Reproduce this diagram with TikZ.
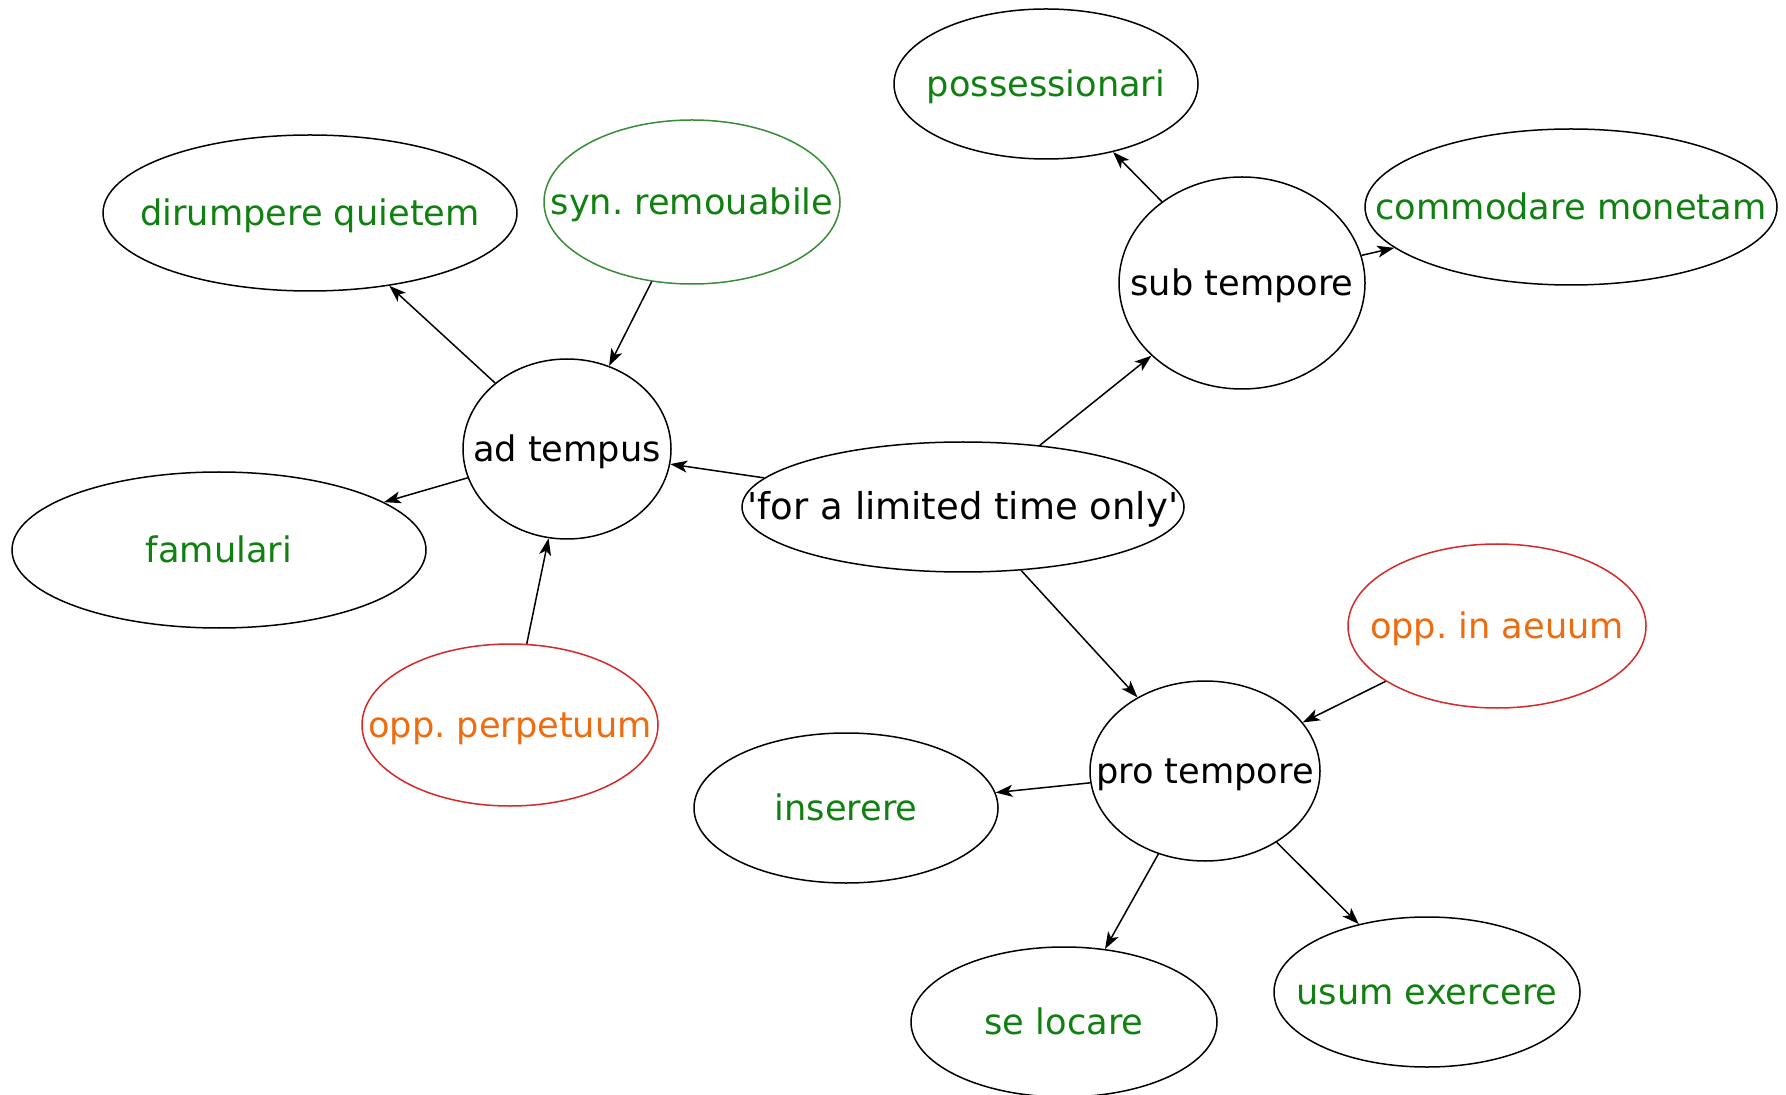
\documentclass[tikz,border=0pt]{standalone}
\usepackage{fontspec}
\setmainfont{DejaVu Sans}
\usetikzlibrary{shapes.geometric,arrows.meta}
\definecolor{txtgreen}{RGB}{16,128,16}
\definecolor{txtorange}{RGB}{238,108,16}
\definecolor{bordred}{RGB}{214,40,40}
\definecolor{bordgreen}{RGB}{56,140,56}
\frenchspacing
\newcommand{\lbl}[1]{\makebox[0pt]{\raisebox{-0.35em}[0pt][0pt]{#1}}}
\begin{document}
\begin{tikzpicture}[x=0.5pt,y=-0.5pt,
  ell/.style={ellipse,draw,line width=0.75pt,inner sep=0pt,font=\fontsize{17.6}{20}\selectfont},
  sz/.style 2 args={minimum width=#1pt,minimum height=#2pt},
  word/.style={ell,text=txtgreen},
  synw/.style={ell,draw=bordgreen,text=txtgreen},
  oppw/.style={ell,draw=bordred,text=txtorange},
  arr/.style={-{Stealth[length=8.5pt,width=6pt,inset=2.2pt]},line width=0.75pt}]
\useasboundingbox (0,0) rectangle (1786,1095);
\node[ell,sz={221}{65},font=\fontsize{18.5}{21}\selectfont] (root) at (963,507) {\lbl{\textquotesingle for a limited time only\textquotesingle}};
\node[ell,sz={104}{90}] (ad) at (567,449) {\lbl{ad tempus}};
\node[ell,sz={123}{106}] (sub) at (1242,283) {\lbl{sub tempore}};
\node[ell,sz={115}{90}] (pro) at (1205,771) {\lbl{pro tempore}};
\node[word,sz={207}{78}] (dir) at (310,213) {\lbl{dirumpere quietem}};
\node[synw,sz={148}{82}] (syn) at (692,202) {\lbl{syn. remouabile}};
\node[word,sz={207}{78}] (fam) at (219,550) {\lbl{famulari}};
\node[oppw,sz={148}{81}] (perp) at (510,725) {\lbl{opp. perpetuum}};
\node[word,sz={152}{75}] (poss) at (1046,84) {\lbl{possessionari}};
\node[word,sz={206}{78}] (comm) at (1571,207) {\lbl{commodare monetam}};
\node[oppw,sz={149}{82}] (aeuum) at (1497,626) {\lbl{opp. in aeuum}};
\node[word,sz={152}{75}] (ins) at (846,808) {\lbl{inserere}};
\node[word,sz={153}{75}] (sel) at (1064,1022) {\lbl{se locare}};
\node[word,sz={153}{75}] (usum) at (1427,992) {\lbl{usum exercere}};
\draw[arr] (root) -- (ad);
\draw[arr] (root) -- (sub);
\draw[arr] (root) -- (pro);
\draw[arr] (ad) -- (dir);
\draw[arr] (syn) -- (ad);
\draw[arr] (ad) -- (fam);
\draw[arr] (perp) -- (ad);
\draw[arr] (sub) -- (poss);
\draw[arr] (sub) -- (comm);
\draw[arr] (aeuum) -- (pro);
\draw[arr] (pro) -- (ins);
\draw[arr] (pro) -- (sel);
\draw[arr] (pro) -- (usum);
\end{tikzpicture}
\end{document}
